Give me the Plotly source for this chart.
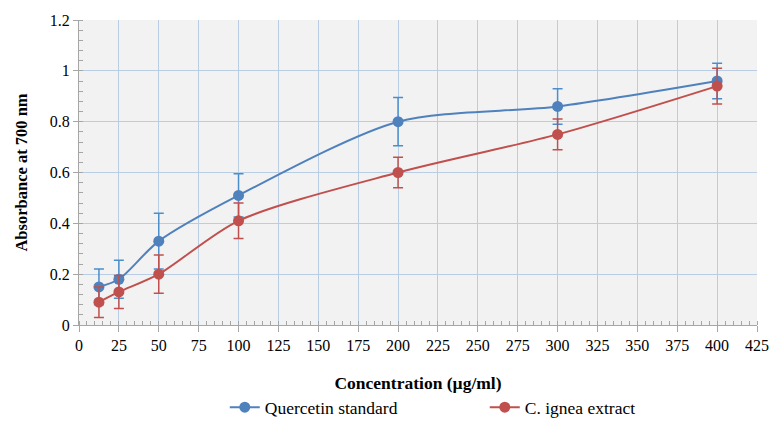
import plotly.graph_objects as go

conc = [12.5, 25, 50, 100, 200, 300, 400]
quercetin = [0.15, 0.18, 0.33, 0.51, 0.80, 0.86, 0.96]
quercetin_err = [0.07, 0.075, 0.11, 0.085, 0.095, 0.07, 0.07]
extract = [0.09, 0.13, 0.20, 0.41, 0.60, 0.75, 0.94]
extract_err = [0.06, 0.065, 0.075, 0.07, 0.06, 0.06, 0.07]

x_ticks = list(range(0, 426, 25))
y_ticks = [0, 0.2, 0.4, 0.6, 0.8, 1.0, 1.2]
y_labels = ["0", "0.2", "0.4", "0.6", "0.8", "1", "1.2"]

blue = "#4F81BD"
red = "#C0504D"
font = "Liberation Serif"

fig = go.Figure()
fig.add_trace(go.Scatter(
    x=conc, y=quercetin, name="Quercetin standard", mode="lines+markers",
    line=dict(color=blue, width=2, shape="spline", smoothing=0.8),
    marker=dict(color=blue, size=11),
    error_y=dict(type="data", array=quercetin_err, color="#4A8FCC", thickness=1.5, width=5),
))
fig.add_trace(go.Scatter(
    x=conc, y=extract, name="C. ignea extract", mode="lines+markers",
    line=dict(color=red, width=2, shape="spline", smoothing=0.8),
    marker=dict(color=red, size=11),
    error_y=dict(type="data", array=extract_err, color=red, thickness=1.5, width=5),
))

fig.update_layout(
    width=772, height=426,
    margin=dict(l=79, r=15, t=20, b=101, autoexpand=False),
    paper_bgcolor="white", plot_bgcolor="#F2F2F2",
    font=dict(family=font, size=16, color="black"),
    showlegend=True,
    legend=dict(orientation="h", x=0.215, xanchor="left", y=-0.27, yanchor="middle",
                font=dict(family=font, size=17.5), itemwidth=30,
                entrywidthmode="pixels", entrywidth=215),
)
fig.update_xaxes(
    range=[0, 425], tickvals=x_ticks, ticktext=[str(v) for v in x_ticks],
    automargin=False,
    showgrid=True, gridcolor="#B9CDE5", gridwidth=1,
    showline=True, linecolor="#A6A6A6", linewidth=1, zeroline=False,
    ticks="outside", ticklen=6, tickcolor="#A6A6A6",
    minor=dict(dtick=5, ticks="inside", ticklen=4, tickcolor="#A6A6A6", showgrid=False),
    tickfont=dict(family=font, size=16),
    title=dict(text="<b>Concentration (µg/ml)</b>", font=dict(family=font, size=17.5), standoff=23),
)
fig.update_yaxes(
    range=[0, 1.2], tickvals=y_ticks, ticktext=y_labels,
    automargin=False,
    showgrid=True, gridcolor="#B9CDE5", gridwidth=1,
    showline=True, linecolor="#A6A6A6", linewidth=1, zeroline=False,
    ticks="outside", ticklen=5, tickcolor="#A6A6A6",
    minor=dict(dtick=0.04, ticks="inside", ticklen=4, tickcolor="#A6A6A6", showgrid=False),
    tickfont=dict(family=font, size=16),
    title=dict(text="<b>Absorbance at 700 nm</b>", font=dict(family=font, size=16.5), standoff=18),
)

fig.write_html("out.html")
